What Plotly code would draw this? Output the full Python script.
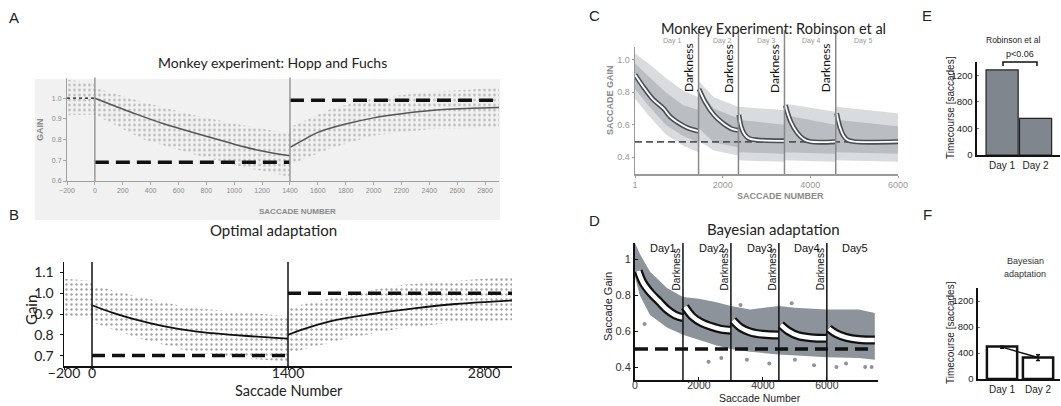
import plotly.graph_objects as go

W, H = 1061, 406
def px(x): return x / W
def py(y): return 1 - y / H

MYR = "Lato"
ARI = "Liberation Sans"

# ---------------- DATA ----------------
# Panel A: Monkey experiment, Hopp and Fuchs
a_band_x = [-200, 0, 0, 350, 700, 1050, 1400, 1400, 1700, 2000, 2400, 2900]
a_band_hi = [1.09, 1.07, 1.05, 0.98, 0.92, 0.87, 0.83, 0.86, 0.95, 1.00, 1.03, 1.05]
a_band_lo = [0.92, 0.92, 0.92, 0.80, 0.73, 0.67, 0.62, 0.68, 0.76, 0.82, 0.85, 0.86]
a_fit1_x = [0, 270, 500, 750, 1000, 1200, 1400]
a_fit1_y = [1.0, 0.93, 0.875, 0.826, 0.778, 0.745, 0.722]
a_fit2_x = [1400, 1500, 1600, 1800, 2000, 2200, 2500, 2900]
a_fit2_y = [0.762, 0.80, 0.835, 0.875, 0.905, 0.925, 0.945, 0.955]
a_target_x = [[0, 1400], [1400, 2900]]
a_target_y = [0.69, 0.99]
a_base_x = [-200, 0]
a_base_y = 1.0
a_phase_x = [0, 1400]
a_xticks = [-200, 0, 200, 400, 600, 800, 1000, 1200, 1400, 1600, 1800, 2000, 2200, 2400, 2600, 2800]
a_yticks = [0.6, 0.7, 0.8, 0.9, 1.0]

# Panel B: Optimal adaptation
b_band_x = [-200, 0, 0, 350, 700, 1050, 1400, 1400, 1800, 2200, 2600, 3000]
b_band_hi = [1.07, 1.06, 1.04, 0.98, 0.93, 0.91, 0.89, 0.93, 0.99, 1.04, 1.06, 1.08]
b_band_lo = [0.88, 0.88, 0.86, 0.78, 0.72, 0.69, 0.67, 0.71, 0.78, 0.83, 0.86, 0.87]
b_fit1_x = [0, 150, 300, 500, 750, 1000, 1200, 1400]
b_fit1_y = [0.942, 0.905, 0.875, 0.843, 0.815, 0.80, 0.79, 0.782]
b_fit2_x = [1400, 1500, 1700, 2000, 2300, 2600, 3000]
b_fit2_y = [0.80, 0.825, 0.865, 0.90, 0.927, 0.948, 0.965]
b_target_x = [[0, 1400], [1400, 3000]]
b_target_y = [0.70, 1.00]
b_phase_x = [0, 1400]
b_xticks = [-200, 0, 1400, 2800]
b_yticks = [0.7, 0.8, 0.9, 1.0, 1.1]

# Panel C: Monkey experiment, Robinson et al
c_band_x = [0, 300, 700, 1100, 1450, 1450, 1800, 2350, 2350, 3400, 3400, 4570, 4570, 6000]
c_band_hi = [1.04, 0.98, 0.89, 0.81, 0.77, 0.87, 0.77, 0.71, 0.71, 0.69, 0.73, 0.68, 0.71, 0.67]
c_band_lo = [0.76, 0.66, 0.54, 0.47, 0.43, 0.50, 0.44, 0.41, 0.38, 0.37, 0.38, 0.37, 0.38, 0.37]
c_core_x = [0, 300, 700, 1100, 1450, 1450, 1800, 2350, 2350, 3400, 3400, 4570, 4570, 6000]
c_core_hi = [0.98, 0.90, 0.80, 0.72, 0.69, 0.82, 0.70, 0.64, 0.63, 0.60, 0.66, 0.60, 0.63, 0.59]
c_core_lo = [0.82, 0.72, 0.60, 0.53, 0.49, 0.58, 0.49, 0.46, 0.43, 0.42, 0.43, 0.42, 0.43, 0.42]
c_fits = [
    ([0, 200, 400, 650, 800, 1000, 1200, 1450], [0.91, 0.83, 0.76, 0.70, 0.65, 0.61, 0.58, 0.56]),
    ([1460, 1600, 1800, 2000, 2200, 2350], [0.82, 0.74, 0.66, 0.61, 0.575, 0.565]),
    ([2370, 2430, 2500, 2600, 2800, 3400], [0.66, 0.58, 0.54, 0.515, 0.505, 0.50]),
    ([3430, 3550, 3700, 3850, 4000, 4570], [0.72, 0.62, 0.55, 0.51, 0.495, 0.495]),
    ([4600, 4680, 4760, 4850, 5000, 6000], [0.67, 0.58, 0.53, 0.505, 0.495, 0.495]),
]
c_target = 0.494
c_target_x = [0, 6000]
c_dark_x = [1450, 2360, 3410, 4580]
c_day_x = [850, 1990, 2990, 4020, 5200]
c_day_labels = ["Day 1", "Day 2", "Day 3", "Day 4", "Day 5"]
c_xticks = [0, 2000, 4000, 6000]
c_xticktext = ["1", "2000", "4000", "6000"]
c_yticks = [0.4, 0.6, 0.8, 1.0]

# Panel D: Bayesian adaptation
d_band_x = [0, 150, 470, 1000, 1500, 2000, 2550, 3000, 3600, 4500, 5000, 6000, 7000, 7500]
d_band_hi = [1.09, 1.03, 0.93, 0.84, 0.79, 0.78, 0.76, 0.74, 0.72, 0.74, 0.73, 0.72, 0.72, 0.70]
d_band_lo = [0.90, 0.80, 0.69, 0.62, 0.58, 0.55, 0.52, 0.50, 0.485, 0.47, 0.465, 0.455, 0.45, 0.44]
d_out_x = [300, 2700, 3500, 4200, 5000, 5600, 6300, 6600, 7200, 7400, 2300, 3300, 4900]
d_out_y = [0.64, 0.45, 0.44, 0.42, 0.44, 0.41, 0.40, 0.42, 0.40, 0.40, 0.43, 0.745, 0.755]
d_fits = [
    ([100, 250, 500, 750, 1000, 1250, 1500], [0.935, 0.87, 0.81, 0.765, 0.72, 0.69, 0.675]),
    ([1560, 1800, 2100, 2400, 2700, 3000], [0.735, 0.68, 0.645, 0.625, 0.61, 0.605]),
    ([3060, 3300, 3600, 4000, 4500], [0.66, 0.62, 0.595, 0.582, 0.578]),
    ([4560, 4800, 5100, 5500, 6000], [0.635, 0.60, 0.575, 0.563, 0.56]),
    ([6060, 6300, 6600, 7000, 7500], [0.615, 0.585, 0.565, 0.553, 0.55]),
]
d_target = 0.5
d_target_x = [0, 7500]
d_dark_x = [1500, 3000, 4500, 6000]
d_day_x = [880, 2420, 3900, 5380, 6880]
d_day_labels = ["Day1", "Day2", "Day3", "Day4", "Day5"]
d_xticks = [0, 2000, 4000, 6000]
d_yticks = [0.4, 0.6, 0.8, 1.0]
d_yticktext = ["0.4", "0.6", "0.8", "1"]

# Panel E: Robinson et al bars
e_days = ["Day 1", "Day 2"]
e_values = [1280, 550]
e_yticks = [0, 400, 800, 1200]

# Panel F: Bayesian adaptation bars
f_days = ["Day 1", "Day 2"]
f_values = [500, 330]
f_mean = [490, 330]
f_err = [15, 45]
f_yticks = [0, 400, 800, 1200]

# ---------------- FIGURE ----------------
fig = go.Figure()

def add(tr):
    tr.update(showlegend=False, hoverinfo="skip")
    fig.add_trace(tr)

def band(xs, hi, lo, xa, ya, **kw):
    add(go.Scatter(x=xs + xs[::-1], y=hi + lo[::-1], fill="toself", mode="lines",
                   line=dict(width=0), xaxis=xa, yaxis=ya, **kw))

def line(xs, ys, xa, ya, color, width, dash="solid", shape="spline"):
    add(go.Scatter(x=xs, y=ys, mode="lines", xaxis=xa, yaxis=ya,
                   line=dict(color=color, width=width, dash=dash, shape=shape)))

# ---- Panel A ----
band(a_band_x, a_band_hi, a_band_lo, "x", "y",
     fillcolor="rgba(190,190,190,0.12)",
     fillpattern=dict(shape=".", fgcolor="#a8a8a8", bgcolor="rgba(0,0,0,0)", size=5, solidity=0.22,
                      fgopacity=0.8))
line(a_fit1_x, a_fit1_y, "x", "y", "#555", 1.5)
line(a_fit2_x, a_fit2_y, "x", "y", "#555", 1.5)
for xs, yv in zip(a_target_x, a_target_y):
    line(xs, [yv, yv], "x", "y", "#111", 3.5, dash="14px,7px", shape="linear")
line(a_base_x, [a_base_y, a_base_y], "x", "y", "#111", 1.2, dash="dot", shape="linear")

# ---- Panel B ----
band(b_band_x, b_band_hi, b_band_lo, "x2", "y2",
     fillcolor="rgba(0,0,0,0)",
     fillpattern=dict(shape=".", fgcolor="#8a8a8a", bgcolor="rgba(0,0,0,0)", size=5, solidity=0.18,
                      fgopacity=0.8))
line(b_fit1_x, b_fit1_y, "x2", "y2", "#111", 1.8)
line(b_fit2_x, b_fit2_y, "x2", "y2", "#111", 1.8)
for xs, yv in zip(b_target_x, b_target_y):
    line(xs, [yv, yv], "x2", "y2", "#111", 3.5, dash="13px,7px", shape="linear")

# ---- Panel C ----
band(c_band_x, c_band_hi, c_band_lo, "x3", "y3", fillcolor="rgba(160,166,172,0.40)")
band(c_core_x, c_core_hi, c_core_lo, "x3", "y3", fillcolor="rgba(140,146,152,0.40)")
line(c_target_x, [c_target, c_target], "x3", "y3", "#555", 1.8, dash="7px,4px", shape="linear")
for xs, ys in c_fits:
    line(xs, ys, "x3", "y3", "#4a4f55", 5)
    line(xs, ys, "x3", "y3", "#ffffff", 1.8)

# ---- Panel D ----
band(d_band_x, d_band_hi, d_band_lo, "x4", "y4", fillcolor="#8d939a")
add(go.Scatter(x=d_out_x, y=d_out_y, mode="markers", xaxis="x4", yaxis="y4",
               marker=dict(color="#8d939a", size=4)))
line(d_target_x, [d_target, d_target], "x4", "y4", "#111", 3.5, dash="13px,7px", shape="linear")
for xs, ys in d_fits:
    line(xs, ys, "x4", "y4", "#111", 9)
    line(xs, ys, "x4", "y4", "#ffffff", 4.5)

# ---- Panel E ----
add(go.Bar(x=[0, 1], y=e_values, width=0.96, xaxis="x5", yaxis="y5",
           marker=dict(color="#7f868d", line=dict(color="#222", width=1.2))))

# ---- Panel F ----
add(go.Bar(x=[0, 1], y=f_values, width=0.84, xaxis="x6", yaxis="y6",
           marker=dict(color="#ffffff", line=dict(color="#111", width=2.5))))
add(go.Scatter(x=[0, 1], y=f_mean, mode="lines", xaxis="x6", yaxis="y6",
               line=dict(color="#111", width=1.5),
               error_y=dict(type="data", array=f_err, color="#111", thickness=1.5, width=2)))

# ---------------- AXES ----------------
def ax(**kw):
    base = dict(showgrid=False, zeroline=False, showline=True, fixedrange=True, automargin=False)
    base.update(kw)
    return base

lay = dict(
    template="none",
    width=W, height=H, margin=dict(l=0, r=0, t=0, b=0, pad=0), autosize=False,
    paper_bgcolor="white", plot_bgcolor="rgba(0,0,0,0)", showlegend=False,
    # A
    xaxis=ax(domain=[px(67), px(499)], range=[-200, 2900], anchor="y",
             linecolor="#a0a0a0", linewidth=1, tickvals=a_xticks,
             tickfont=dict(family=ARI, size=7, color="#8a8a8a"), ticks="outside", ticklen=3, tickcolor="#aaa"),
    yaxis=ax(domain=[py(181), py(77.5)], range=[0.6, 1.1], anchor="x",
             linecolor="#a0a0a0", linewidth=1, tickvals=a_yticks, ticktext=["0.6", "0.7", "0.8", "0.9", "1.0"],
             tickfont=dict(family=ARI, size=7, color="#8a8a8a"), ticks="outside", ticklen=3, tickcolor="#aaa"),
    # B
    xaxis2=ax(domain=[px(64), px(512)], range=[-200, 3000], anchor="y2",
              linecolor="#111", linewidth=1.5, tickvals=b_xticks,
              tickfont=dict(family=MYR, size=14, color="#222"), ticks="outside", ticklen=2, tickcolor="#111",
              ticklabelstandoff=-8),
    yaxis2=ax(domain=[py(366), py(262)], range=[0.65, 1.15], anchor="x2",
              linecolor="#111", linewidth=1.5, tickvals=b_yticks, ticktext=["0.7", "0.8", "0.9", "1.0", "1.1"],
              tickfont=dict(family=MYR, size=14, color="#222"), ticks="outside", ticklen=3, tickcolor="#111",
              ticklabelstandoff=3),
    # C
    xaxis3=ax(domain=[px(635), px(898)], range=[0, 6000], anchor="y3",
              linecolor="#999", linewidth=1.5, tickvals=c_xticks, ticktext=c_xticktext,
              tickfont=dict(family=ARI, size=9, color="#999"), ticks="outside", ticklen=2, tickcolor="#999"),
    yaxis3=ax(domain=[py(174), py(47)], range=[0.295, 1.08], anchor="x3",
              linecolor="#999", linewidth=1.5, tickvals=c_yticks, ticktext=["0.4", "0.6", "0.8", "1.0"],
              tickfont=dict(family=ARI, size=9, color="#999"), ticks="outside", ticklen=2, tickcolor="#999"),
    # D
    xaxis4=ax(domain=[px(635), px(878)], range=[0, 7600], anchor="y4",
              linecolor="#111", linewidth=2, tickvals=d_xticks,
              tickfont=dict(family=ARI, size=10.5, color="#333"), ticks="inside", ticklen=3, tickcolor="#111",
              ticklabelstandoff=-6),
    yaxis4=ax(domain=[py(380), py(243)], range=[0.328, 1.09], anchor="x4",
              linecolor="#111", linewidth=2, tickvals=d_yticks, ticktext=d_yticktext,
              tickfont=dict(family=ARI, size=11, color="#333"), ticks="inside", ticklen=3, tickcolor="#111"),
    # E
    xaxis5=ax(domain=[px(977), px(1060)], range=[-0.75, 1.73], anchor="y5",
              linecolor="#111", linewidth=1.5, tickvals=[0, 1], ticktext=e_days,
              tickfont=dict(family=ARI, size=10, color="#222"), ticks=""),
    yaxis5=ax(domain=[py(155), py(62)], range=[0, 1400], anchor="x5",
              linecolor="#111", linewidth=2.5, tickvals=e_yticks,
              tickfont=dict(family=ARI, size=9.5, color="#222"), ticks="inside", ticklen=2, tickcolor="#777"),
    # F
    xaxis6=ax(domain=[px(978), px(1060)], range=[-0.667, 1.61], anchor="y6",
              linecolor="#111", linewidth=1.5, tickvals=[0, 1], ticktext=f_days,
              tickfont=dict(family=ARI, size=10, color="#222"), ticks=""),
    yaxis6=ax(domain=[py(379), py(288)], range=[0, 1400], anchor="x6",
              linecolor="#111", linewidth=2.5, tickvals=f_yticks,
              tickfont=dict(family=ARI, size=9.5, color="#222"), ticks="inside", ticklen=2, tickcolor="#777"),
)
fig.update_layout(**lay)

# ---------------- SHAPES ----------------
shapes = []
shapes.append(dict(type="rect", xref="paper", yref="paper", x0=px(35), x1=px(500), y0=py(220), y1=py(79),
                   fillcolor="#f1f1f1", line=dict(width=0), layer="below"))
for xv in a_phase_x:
    shapes.append(dict(type="line", xref="x", yref="y domain", x0=xv, x1=xv, y0=0, y1=1,
                       line=dict(color="#999", width=1.5)))
for xv in b_phase_x:
    shapes.append(dict(type="line", xref="x2", yref="y2 domain", x0=xv, x1=xv, y0=0, y1=1,
                       line=dict(color="#111", width=1.5)))
for xv in c_dark_x:
    shapes.append(dict(type="line", xref="x3", yref="paper", x0=xv, x1=xv, y0=py(174), y1=py(30),
                       line=dict(color="#888", width=1.5)))
for xv in d_dark_x:
    shapes.append(dict(type="line", xref="x4", yref="y4 domain", x0=xv, x1=xv, y0=0, y1=1,
                       line=dict(color="#111", width=1.5)))
shapes.append(dict(type="path", xref="paper", yref="paper",
                   path=f"M {px(1003)},{py(66)} L {px(1003)},{py(62)} L {px(1037)},{py(62)} L {px(1037)},{py(66)}",
                   line=dict(color="#111", width=1.5)))
fig.update_layout(shapes=shapes)

# ---------------- ANNOTATIONS ----------------
ann = []
def text(x, y, s, size, family=ARI, color="#111", angle=0, xanchor="center", bold=False):
    if bold:
        s = f"<b>{s}</b>"
    ann.append(dict(x=px(x), y=py(y), xref="paper", yref="paper",
                    text=s, showarrow=False, textangle=angle, xanchor=xanchor, yanchor="middle",
                    font=dict(family=family, size=size, color=color)))

for lab, (lx, ly) in {"A": (14, 17), "B": (14, 215), "C": (594, 15), "D": (594, 220),
                      "E": (927, 15), "F": (927, 215)}.items():
    text(lx, ly, lab, 15, family=ARI, color="#222")

# A
text(272, 62, "Monkey experiment: Hopp and Fuchs", 14, family=MYR, color="#222")
text(40, 130, "GAIN", 9, color="#8a8a8a", angle=-90, bold=True)
text(297, 211, "SACCADE NUMBER", 8, color="#8a8a8a", bold=True)
# B
text(273, 230, "Optimal adaptation", 15, family=MYR, color="#222")
text(31, 310, "Gain", 15, family=MYR, color="#222", angle=-90)
text(289, 390, "Saccade Number", 14.5, family=MYR, color="#222")
# C
text(773, 28, "Monkey Experiment: Robinson et al", 14.5, family=MYR, color="#222")
for xv, lab in zip(c_day_x, c_day_labels):
    ann.append(dict(x=xv, y=py(41), xref="x3", yref="paper", text=lab, showarrow=False,
                    yanchor="middle", font=dict(family=ARI, size=7, color="#999")))
for xv in c_dark_x:
    ann.append(dict(x=xv, y=py(68), xref="x3", yref="paper", text="Darkness", showarrow=False,
                    textangle=-90, xanchor="right", yanchor="middle", xshift=-1,
                    font=dict(family=MYR, size=12, color="#111")))
text(610, 100, "SACCADE GAIN", 9, color="#8a8a8a", angle=-90, bold=True)
text(780, 196, "SACCADE NUMBER", 9, color="#8a8a8a", bold=True)
# D
text(773, 229, "Bayesian adaptation", 15, family=MYR, color="#222")
for xv, lab in zip(d_day_x, d_day_labels):
    ann.append(dict(x=xv, y=py(248), xref="x4", yref="paper", text=lab, showarrow=False,
                    yanchor="middle", font=dict(family=ARI, size=11, color="#111")))
for xv in d_dark_x:
    ann.append(dict(x=xv, y=py(269), xref="x4", yref="paper", text="Darkness", showarrow=False,
                    textangle=-90, xanchor="right", yanchor="middle", xshift=1,
                    font=dict(family=ARI, size=10, color="#111")))
text(608, 307, "Saccade Gain", 11, color="#222", angle=-90)
text(760, 398, "Saccade Number", 10.5, color="#222")
# E
text(1013, 40, "Robinson et al", 8.5, color="#222")
text(1020, 54, "p&lt;0.06", 9, color="#222")
text(950, 108, "Timecourse [saccades]", 10, color="#222", angle=-90)
# F
text(1025, 261, "Bayesian", 9, color="#333")
text(1025, 274, "adaptation", 9, color="#333")
text(950, 333, "Timecourse [saccades]", 10, color="#222", angle=-90)

fig.update_layout(annotations=ann)

fig.write_html("out.html",
               config={"displayModeBar": False, "staticPlot": True},
               post_script="document.body.style.margin='0';document.body.style.padding='0';"
                           "document.documentElement.style.overflow='hidden';")
